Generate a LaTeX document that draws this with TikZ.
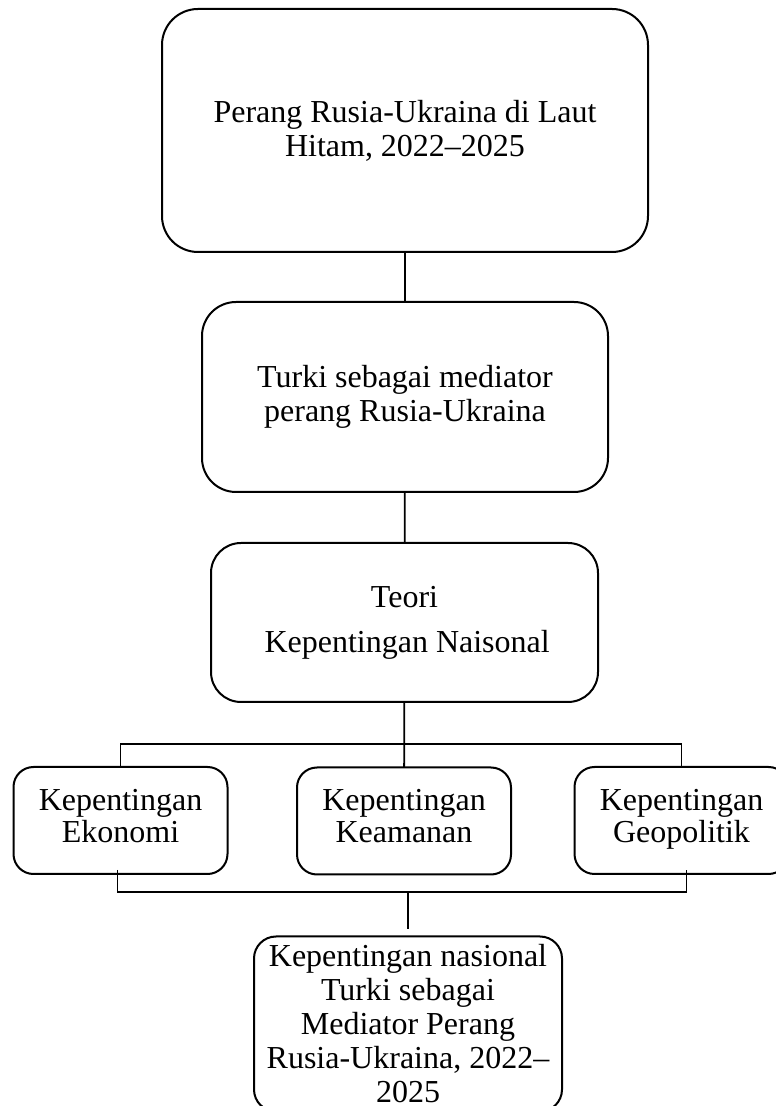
\documentclass[tikz,border=0pt]{standalone}
\usepackage{fontspec}
\setmainfont{Liberation Serif}
\usetikzlibrary{positioning}
\tikzset{
    box/.style={rectangle,draw,line width=2pt,inner sep=0pt,outer sep=0pt,align=center,font=\fontsize{32}{34}\selectfont},
    rowbox/.style={box,rounded corners=20pt,minimum width=214pt,minimum height=107pt,font=\fontsize{32}{32}\selectfont},
    link/.style={line width=1.8pt},
}
\begin{document}
\begin{tikzpicture}[x=1pt,y=1pt]
    \useasboundingbox (0,0) rectangle (776,1106);
    \clip (0,0) rectangle (776,1106);

    \node[box,rounded corners=36pt,minimum width=486pt,minimum height=243pt] (perang) at (405,975.5) {Perang Rusia-Ukraina di Laut\\Hitam, 2022–2025};
    \node[box,rounded corners=34pt,minimum width=406pt,minimum height=190pt] (mediator) at (405,709) {Turki sebagai mediator\\perang Rusia-Ukraina};
    \node[box,rounded corners=30pt,minimum width=387pt,minimum height=159pt] (teori) at (404.5,483.5) {Teori\\[11pt]\,Kepentingan Naisonal};

    \node[rowbox] (ekonomi) at (120.5,285.5) {Kepentingan\\Ekonomi\strut};
    \node[rowbox] (keamanan) at (404,285) {Kepentingan\\Keamanan\strut};
    \node[rowbox] (geopolitik) at (681.5,285.5) {Kepentingan\\Geopolitik\strut};

    \node[box,rounded corners=22pt,minimum width=308pt,minimum height=175pt] (hasil) at (408,82) {Kepentingan nasional\\Turki sebagai\\Mediator Perang\\Rusia-Ukraina, 2022–\\2025};

    \coordinate (split) at (405,362);
    \coordinate (join) at (408,214);

    \draw[link] (perang) -- (mediator);
    \draw[link] (mediator) -- (teori);
    \draw[link] (teori) -- (keamanan);
    \draw[link] (ekonomi.north) |- (split) -| (geopolitik.north);
    \draw[link] ([xshift=-3pt,yshift=4pt]ekonomi.south) |- (join) -| ([xshift=5pt,yshift=4pt]geopolitik.south);
    \draw[link] (join) -- ([yshift=7pt]hasil.north);
\end{tikzpicture}
\end{document}
